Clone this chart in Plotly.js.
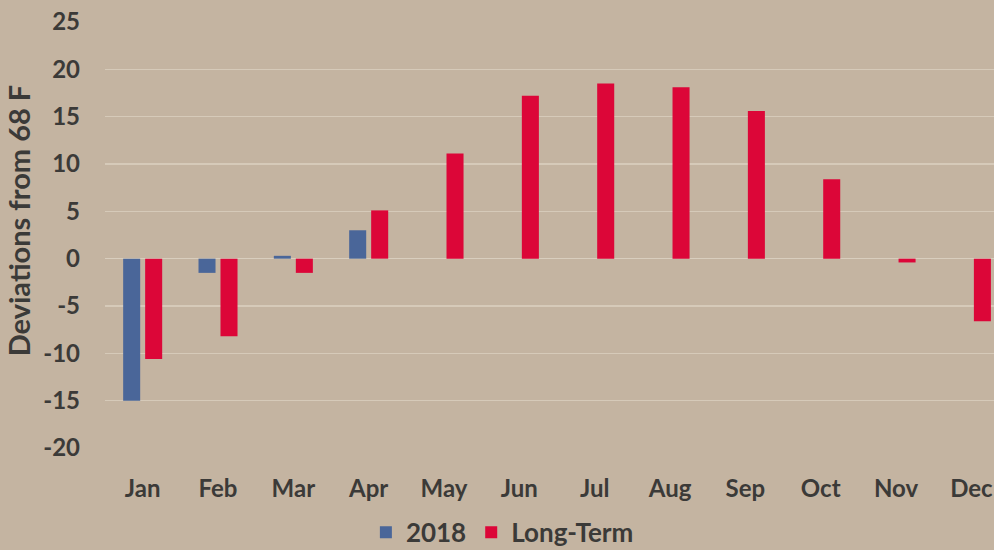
<!DOCTYPE html>
<html>
<head>
<meta charset="utf-8">
<script src="https://cdn.plot.ly/plotly-3.0.1.min.js"></script>
<style>
  html, body { margin: 0; padding: 0; background: #c4b4a1; }
  #chart { width: 994px; height: 550px; }
</style>
</head>
<body>
<div id="chart"></div>
<script>
const months = ["Jan","Feb","Mar","Apr","May","Jun","Jul","Aug","Sep","Oct","Nov","Dec"];
const dev2018 = [-15.0, -1.5, 0.3, 3.0, null, null, null, null, null, null, null, null];
const devLongTerm = [-10.6, -8.2, -1.5, 5.1, 11.1, 17.2, 18.5, 18.1, 15.6, 8.4, -0.4, -6.6];
const yTicks = [-20, -15, -10, -5, 0, 5, 10, 15, 20, 25];

const textColor = "#3b3a38";
const fontFam = "Lato, 'Open Sans', sans-serif";

const traces = [
  { type: "bar", name: "2018", x: months, y: dev2018, marker: { color: "#4a6699" } },
  { type: "bar", name: "Long-Term", x: months, y: devLongTerm, marker: { color: "#dc0638" } }
];

const layout = {
  width: 994, height: 550,
  paper_bgcolor: "#c4b4a1",
  plot_bgcolor: "#c4b4a1",
  margin: { l: 105, r: 0, t: 22, b: 102, autoexpand: false },
  barmode: "group",
  bargap: 0.416,
  bargroupgap: 0.226,
  font: { family: fontFam, color: textColor, size: 24, weight: "bold" },
  xaxis: {
    type: "category",
    range: [-0.5, 11.3],
    automargin: false,
    showgrid: false,
    zeroline: false,
    showline: false,
    ticks: "",
    ticklabelstandoff: 24,
    tickfont: { family: fontFam, size: 24, color: textColor, weight: "bold" }
  },
  yaxis: {
    range: [-20, 25],
    automargin: false,
    tickvals: yTicks,
    ticktext: yTicks.map(String),
    showgrid: true,
    gridcolor: "#d6cab9",
    gridwidth: 1.5,
    zeroline: true,
    zerolinecolor: "#d9cebe",
    zerolinewidth: 1.5,
    showline: false,
    ticks: "",
    ticklabelstandoff: 24,
    tickfont: { family: fontFam, size: 24, color: textColor, weight: "bold" }
  },
  showlegend: true,
  legend: {
    orientation: "h",
    x: 0.447, xanchor: "center",
    y: -0.198, yanchor: "middle",
    bgcolor: "rgba(0,0,0,0)",
    font: { family: fontFam, size: 26, color: textColor, weight: "bold" },
    itemwidth: 30,
    traceorder: "normal"
  },
  annotations: [{
    text: "Deviations from 68 F",
    xref: "paper", yref: "paper",
    x: -0.097, y: 0.534,
    xanchor: "center", yanchor: "middle",
    textangle: -90,
    showarrow: false,
    font: { family: fontFam, size: 29, color: textColor, weight: "bold" }
  }]
};

Plotly.newPlot("chart", traces, layout, { displayModeBar: false, staticPlot: true });
</script>
</body>
</html>
